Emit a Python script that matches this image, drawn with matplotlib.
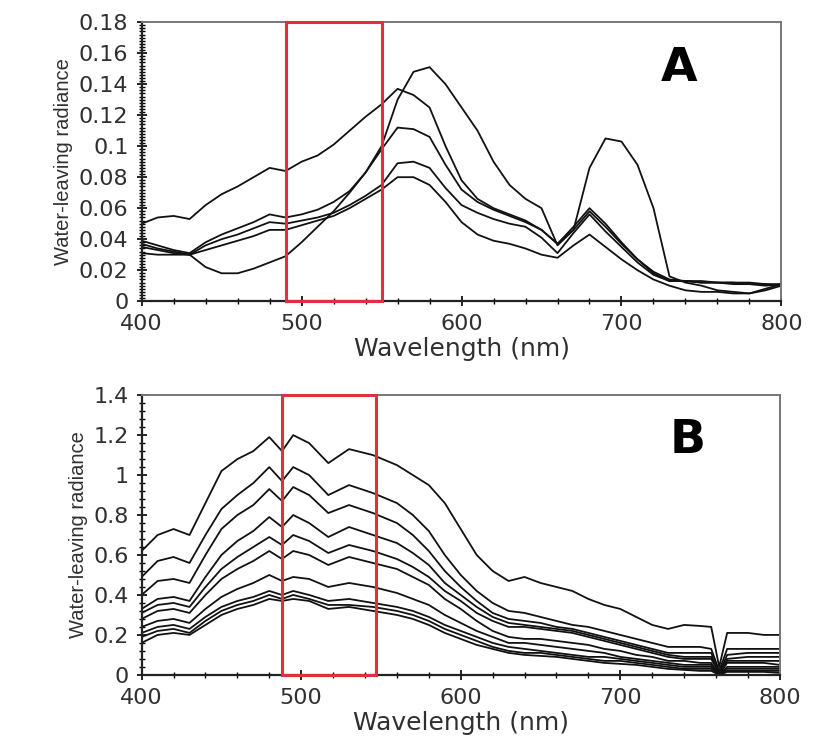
import matplotlib.pyplot as plt
from matplotlib.patches import Rectangle
from matplotlib.ticker import MultipleLocator

# ---- panel A data (water-leaving radiance, 5 spectra) ----
wl_a = [400, 410, 420, 430, 440, 450, 460, 470, 480, 490, 500, 510, 520, 530, 540, 550,
        560, 570, 580, 590, 600, 610, 620, 630, 640, 650, 660, 670, 680, 690, 700, 710,
        720, 730, 740, 750, 760, 770, 780, 790, 800]
a_top = [.050, .054, .055, .053, .062, .069, .074, .080, .086, .084, .090, .094, .101, .110, .119, .127,
         .137, .133, .125, .100, .078, .066, .060, .056, .052, .046, .037, .048, .060, .050, .038, .027,
         .018, .013, .013, .012, .012, .012, .011, .011, .010]
a_bloom = [.037, .034, .032, .030, .022, .018, .018, .021, .025, .029, .038, .048, .058, .070, .083, .100,
           .130, .148, .151, .140, .125, .110, .090, .075, .066, .060, .036, .046, .086, .105, .103, .088,
           .060, .016, .012, .010, .007, .006, .005, .008, .011]
a_mid1 = [.039, .036, .033, .031, .038, .043, .047, .051, .056, .054, .056, .059, .064, .071, .083, .098,
          .112, .111, .106, .088, .072, .064, .059, .055, .051, .046, .037, .046, .058, .048, .037, .027,
          .019, .014, .013, .013, .012, .012, .012, .011, .011]
a_mid2 = [.035, .033, .031, .030, .036, .040, .043, .047, .051, .050, .052, .054, .057, .062, .068, .075,
          .089, .090, .086, .073, .062, .057, .053, .050, .048, .041, .031, .044, .056, .045, .035, .025,
          .017, .013, .013, .012, .012, .011, .011, .010, .011]
a_low = [.031, .030, .030, .030, .033, .036, .039, .042, .046, .046, .049, .052, .055, .060, .066, .072,
         .080, .080, .075, .064, .051, .043, .039, .037, .034, .030, .028, .036, .043, .035, .027, .020,
         .014, .010, .007, .006, .006, .005, .005, .007, .010]

# ---- panel B data (10 spectra) ----
wl_b = [400, 410, 420, 430, 440, 450, 460, 470, 480, 488, 495, 505, 517, 530, 545, 560, 570,
        580, 590, 600, 610, 620, 630, 640, 650, 660, 670, 680, 690, 700, 710, 720, 730, 740,
        750, 757, 762, 767, 780, 790, 800]
b1 = [.62, .70, .73, .70, .86, 1.02, 1.08, 1.12, 1.19, 1.12, 1.20, 1.16, 1.06, 1.13, 1.10, 1.05, 1.00,
      .95, .86, .73, .60, .52, .47, .49, .46, .44, .42, .38, .35, .33, .29, .25, .23, .25,
      .245, .24, .04, .21, .21, .20, .20]
b2 = [.49, .57, .59, .56, .70, .83, .90, .96, 1.04, .97, 1.04, 1.00, .90, .95, .91, .86, .80,
      .72, .60, .50, .42, .36, .32, .31, .29, .27, .25, .24, .22, .20, .18, .16, .14, .14,
      .14, .13, .02, .13, .13, .13, .13]
b3 = [.40, .47, .48, .46, .60, .73, .80, .85, .93, .87, .94, .90, .81, .85, .81, .76, .70,
      .62, .52, .44, .37, .31, .28, .27, .26, .24, .23, .21, .19, .17, .15, .13, .11, .11,
      .11, .11, .01, .10, .11, .11, .11]
b4 = [.33, .38, .39, .37, .49, .60, .67, .72, .79, .74, .80, .76, .69, .74, .70, .66, .61,
      .55, .46, .40, .34, .29, .26, .25, .24, .23, .22, .20, .18, .16, .14, .12, .10, .09,
      .09, .09, .01, .08, .09, .09, .09]
b5 = [.31, .35, .36, .34, .44, .53, .59, .64, .69, .65, .70, .67, .61, .65, .62, .58, .54,
      .49, .42, .37, .31, .27, .24, .24, .23, .22, .21, .19, .17, .15, .13, .11, .09, .08,
      .08, .08, .01, .07, .07, .07, .07]
b6 = [.28, .32, .33, .31, .40, .48, .53, .57, .62, .58, .62, .60, .55, .59, .56, .53, .49,
      .45, .38, .33, .27, .22, .19, .18, .18, .17, .16, .15, .13, .12, .10, .09, .07, .07,
      .06, .06, .00, .06, .06, .06, .05]
b7 = [.24, .27, .28, .26, .33, .39, .43, .46, .50, .47, .49, .48, .44, .46, .44, .41, .38,
      .35, .30, .26, .22, .19, .16, .16, .15, .14, .13, .12, .11, .09, .08, .07, .06, .05,
      .05, .05, .00, .04, .04, .04, .04]
b8 = [.21, .24, .25, .23, .29, .34, .37, .39, .42, .40, .42, .40, .37, .38, .36, .34, .32,
      .29, .25, .22, .19, .16, .14, .13, .12, .11, .10, .09, .09, .08, .07, .06, .05, .04,
      .04, .04, .00, .03, .03, .03, .03]
b9 = [.19, .22, .23, .21, .27, .32, .35, .37, .40, .38, .40, .38, .35, .35, .34, .32, .30,
      .27, .23, .20, .17, .14, .12, .11, .11, .10, .09, .08, .07, .07, .06, .05, .04, .03,
      .03, .03, .00, .02, .02, .02, .02]
b10 = [.16, .20, .21, .20, .25, .30, .33, .35, .38, .37, .38, .37, .33, .34, .32, .30, .28,
       .25, .21, .18, .15, .13, .11, .10, .095, .09, .08, .07, .06, .055, .05, .04, .03, .025,
       .02, .02, .00, .015, .015, .015, .01]

box_a = (490, 550)
box_b = (488, 547)

lab_font = 'DejaVu Sans'


def style(ax, ymax, ymajor, yminor):
    ax.set_xlim(400, 800)
    ax.set_ylim(0, ymax)
    ax.xaxis.set_major_locator(MultipleLocator(100))
    ax.xaxis.set_minor_locator(MultipleLocator(20))
    ax.yaxis.set_major_locator(MultipleLocator(ymajor))
    ax.yaxis.set_minor_locator(MultipleLocator(yminor))
    ax.tick_params(which='major', direction='inout', length=7, width=1.2,
                   labelsize=16, pad=6, top=False, right=False, labelcolor='#303030')
    ax.tick_params(which='minor', direction='inout', length=4, width=1.0,
                   top=False, right=False)
    for lbl in ax.get_xticklabels() + ax.get_yticklabels():
        lbl.set_family(lab_font)
    for s in ['left', 'bottom']:
        ax.spines[s].set_linewidth(1.6)
        ax.spines[s].set_color('#222222')
    for s in ['top', 'right']:
        ax.spines[s].set_linewidth(1.4)
        ax.spines[s].set_color('#777777')
    ax.set_xlabel('Wavelength (nm)', fontsize=18, family=lab_font, labelpad=2, color='#303030')
    ax.set_ylabel('Water-leaving radiance', fontsize=14.5, family='Liberation Sans',
                  labelpad=4, color='#303030')


fig = plt.figure(figsize=(8.14, 7.4), dpi=100)

# panel A
axA = fig.add_axes([0.174, 0.593, 0.786, 0.377])
for y in [a_top, a_bloom, a_mid1, a_mid2, a_low]:
    axA.plot(wl_a, y, color='#111111', lw=1.3)
style(axA, 0.18, 0.02, 0.002)
axA.yaxis.set_major_formatter(plt.FuncFormatter(lambda v, p: '0' if v == 0 else ('%g' % round(v, 2))))
axA.add_patch(Rectangle((box_a[0], 0), box_a[1] - box_a[0], 0.18, fill=False,
                        edgecolor='#e03040', lw=2.2, clip_on=False, zorder=5))
axA.text(736, 0.150, 'A', fontsize=34, fontweight='bold', family=lab_font,
         ha='center', va='center')

# panel B
axB = fig.add_axes([0.174, 0.088, 0.784, 0.378])
for y in [b1, b2, b3, b4, b5, b6, b7, b8, b9, b10]:
    axB.plot(wl_b, y, color='#111111', lw=1.3)
style(axB, 1.4, 0.2, 0.04)
axB.yaxis.set_major_formatter(plt.FuncFormatter(lambda v, p: '%g' % round(v, 1)))
axB.add_patch(Rectangle((box_b[0], 0), box_b[1] - box_b[0], 1.4, fill=False,
                        edgecolor='#e03040', lw=2.2, clip_on=False, zorder=5))
axB.text(742, 1.175, 'B', fontsize=34, fontweight='bold', family=lab_font,
         ha='center', va='center')

fig.savefig('out.png', dpi=100)
